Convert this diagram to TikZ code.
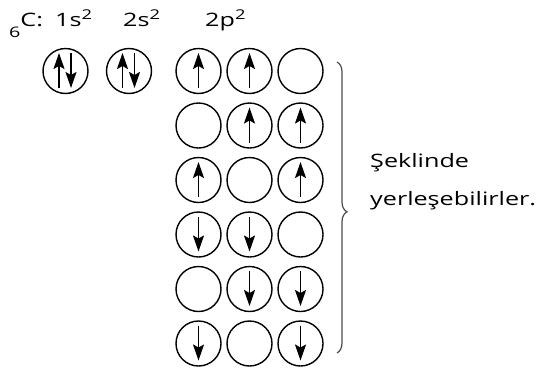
\documentclass[tikz,border=0pt]{standalone}
\usepackage{fontspec}
\setmainfont{Open Sans}[FakeStretch=1.36]
\usetikzlibrary{arrows.meta,decorations.pathreplacing}
\tikzset{
  orb/.style={circle, draw, line width=1.4pt, minimum size=45pt, inner sep=0pt},
  spin/.style={line width=1.8pt, -{Stealth[length=16pt,width=11pt,inset=3pt]}},
  lbl/.style={anchor=base west, inner sep=0pt, font=\fontsize{18.5}{20}\selectfont},
  bracestyle/.style={decorate, decoration={brace, amplitude=10pt, aspect=0.515}, line width=1.2pt, draw=black!70}
}
\newcommand{\sq}{\raisebox{7pt}{\fontsize{13.5}{13.5}\selectfont 2}}
\newcommand{\upspin}[2][0pt]{\draw[spin] ([xshift=#1,yshift=-17pt]#2.center) -- ([xshift=#1,yshift=18pt]#2.center);}
\newcommand{\dnspin}[2][0pt]{\draw[spin] ([xshift=#1,yshift=18pt]#2.center) -- ([xshift=#1,yshift=-17pt]#2.center);}
\begin{document}
\begin{tikzpicture}[x=1pt,y=-1pt]
\useasboundingbox (0,0) rectangle (543,370);
% labels
\node[lbl] (tC) at (9,26) {\raisebox{-11pt}{\fontsize{14.5}{14.5}\selectfont 6}C:};
\node[lbl] (t1s) at (55,26) {1s\sq};
\node[lbl] (t2s) at (123,26) {2s\sq};
\node[lbl] (t2p) at (205,26) {2p\sq};
% 1s and 2s
\node[orb] (s1) at (65.5,71) {};
\node[orb] (s2) at (129,71) {};
\upspin[-6.5pt]{s1} \dnspin[5.5pt]{s1}
\upspin[-6.5pt]{s2} \dnspin[5.5pt]{s2}
% 2p rows
\foreach \r/\yy in {0/71,1/125.5,2/180,3/234.5,4/289,5/343.5}{
  \node[orb] (p\r a) at (198.5,\yy) {};
  \node[orb] (p\r b) at (249.5,\yy) {};
  \node[orb] (p\r c) at (300.5,\yy) {};
}
\upspin{p0a} \upspin{p0b}
\upspin{p1b} \upspin{p1c}
\upspin{p2a} \upspin{p2c}
\dnspin{p3a} \dnspin{p3b}
\dnspin{p4b} \dnspin{p4c}
\dnspin{p5a} \dnspin{p5c}
% brace
\coordinate (bt) at (337,62);
\coordinate (bb) at (337,353);
\draw[bracestyle] (bt) -- (bb);
% text
\node[lbl] (tS) at (370,167) {Şeklinde};
\node[lbl] (tY) at (370,205) {yerleşebilirler.};
\end{tikzpicture}
\end{document}
